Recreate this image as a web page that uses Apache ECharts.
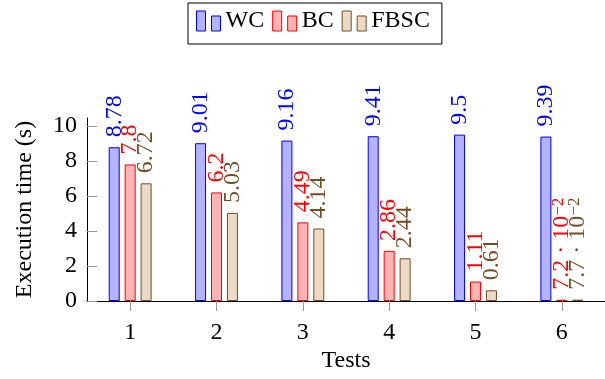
<!DOCTYPE html>
<html>
<head>
<meta charset="utf-8">
<script src="https://cdn.jsdelivr.net/npm/echarts@6/dist/echarts.min.js"></script>
<style>html,body{margin:0;padding:0;background:#fff;}#c{width:605px;height:379px;}</style>
</head>
<body>
<div id="c"></div>
<script>
const categories = ['1', '2', '3', '4', '5', '6'];
const wcValues = [8.78, 9.01, 9.16, 9.41, 9.5, 9.39];
const bcValues = [7.8, 6.2, 4.49, 2.86, 1.11, 0.072];
const fbscValues = [6.72, 5.03, 4.14, 2.44, 0.61, 0.077];
const yTicks = [0, 2, 4, 6, 8, 10];

const FONT = 'Liberation Serif';
const legendIcon = 'path://M0 0H9V20H0Z M15 5H24V20H15Z';

function fmt(v) {
  if (v < 0.1) {
    const m = Math.round(v * 1000) / 10;
    return m + ' \u00b7 10{sup|\u22122}';
  }
  return String(v);
}

function makeSeries(name, data, fill, stroke) {
  return {
    name: name,
    type: 'bar',
    data: data,
    barWidth: 11,
    barGap: '45%',
    itemStyle: { color: fill, borderColor: stroke, borderWidth: 1 },
    label: {
      show: true,
      position: 'top',
      distance: 10,
      rotate: 90,
      align: 'left',
      verticalAlign: 'middle',
      fontFamily: FONT,
      fontSize: 24,
      color: stroke,
      formatter: function (p) { return fmt(p.value); },
      rich: {
        sup: { fontFamily: FONT, fontSize: 17, color: stroke, verticalAlign: 'top', lineHeight: 24 }
      }
    }
  };
}

const chart = echarts.init(document.getElementById('c'), null, { renderer: 'canvas' });
chart.setOption({
  animation: false,
  backgroundColor: '#fff',
  textStyle: { fontFamily: FONT },
  legend: {
    left: 188,
    top: 3,
    padding: [6, 12, 11, 8],
    itemGap: 8,
    itemWidth: 24,
    itemHeight: 20,
    icon: legendIcon,
    borderColor: '#000',
    borderWidth: 1,
    borderRadius: 0,
    itemStyle: { borderWidth: 1 },
    textStyle: { fontFamily: FONT, fontSize: 24, color: '#000' },
    data: ['WC', 'BC', 'FBSC']
  },
  grid: { left: 87, right: -7, top: 118, bottom: 78, containLabel: false },
  xAxis: {
    type: 'category',
    data: categories,
    name: 'Tests',
    nameLocation: 'middle',
    nameGap: 48,
    nameTextStyle: { fontFamily: FONT, fontSize: 24, color: '#000' },
    axisLine: { show: true, lineStyle: { color: '#000', width: 1 } },
    axisTick: { show: true, alignWithLabel: true, inside: false, length: 10, lineStyle: { color: '#999', width: 1 } },
    axisLabel: { fontFamily: FONT, fontSize: 24, color: '#000', margin: 20 },
    splitLine: { show: false }
  },
  yAxis: {
    type: 'value',
    min: 0,
    max: 10.45,
    interval: 2,
    name: 'Execution time (s)',
    nameLocation: 'middle',
    nameGap: 50,
    nameTextStyle: { fontFamily: FONT, fontSize: 24, color: '#000' },
    axisLine: { show: true, lineStyle: { color: '#000', width: 1 } },
    axisTick: { show: true, inside: true, length: 10, customValues: yTicks, lineStyle: { color: '#999', width: 1 } },
    axisLabel: { fontFamily: FONT, fontSize: 24, color: '#000', margin: 10, customValues: yTicks },
    splitLine: { show: false }
  },
  series: [
    makeSeries('WC', wcValues, '#b3b3ff', '#0000ff'),
    makeSeries('BC', bcValues, '#ffb3b3', '#ff0000'),
    makeSeries('FBSC', fbscValues, '#ecd9c6', '#734d26')
  ]
});
</script>
</body>
</html>
